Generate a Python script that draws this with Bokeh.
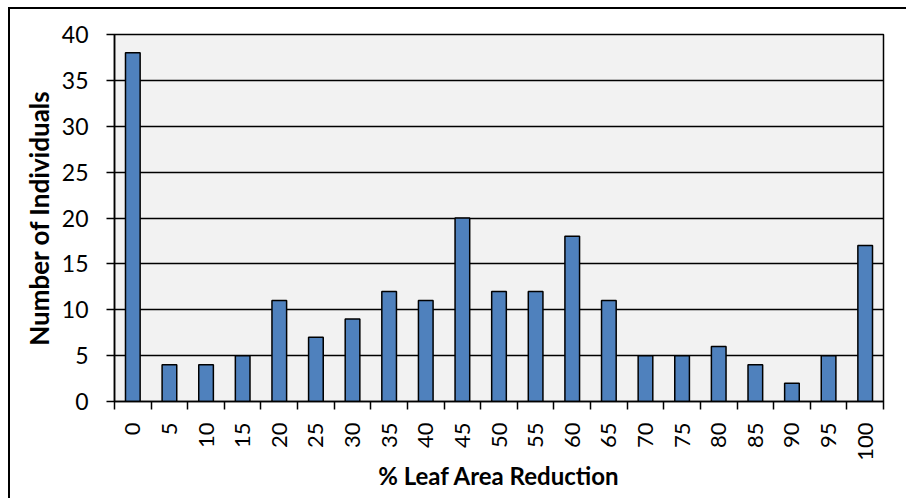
import math
from bokeh.plotting import figure
from bokeh.models import Range1d, FixedTicker, ColumnDataSource
from bokeh.embed import file_html
from bokeh.resources import INLINE

categories = ["0", "5", "10", "15", "20", "25", "30", "35", "40", "45", "50",
              "55", "60", "65", "70", "75", "80", "85", "90", "95", "100"]
counts = [38, 4, 4, 5, 11, 7, 9, 12, 11, 20, 12, 12, 18, 11, 5, 5, 6, 4, 2, 5, 17]
y_ticks = [0, 5, 10, 15, 20, 25, 30, 35, 40]

FONT = "Lato"

idx = list(range(len(categories)))
src = ColumnDataSource(dict(x=idx, top=counts, cat=categories))

p = figure(frame_width=769, frame_height=367,
           width=898, height=491,
           min_border_left=106, min_border_right=23,
           min_border_top=27, min_border_bottom=97,
           x_range=Range1d(-0.5, len(categories) - 0.5),
           y_range=Range1d(0, 40),
           output_backend="svg", toolbar_location=None)

p.vbar(x="x", top="top", width=0.4, bottom=0, source=src,
       fill_color="#4F81BD", line_color="black", line_width=1.5)

p.background_fill_color = "#F2F2F2"
p.border_fill_color = None
p.outline_line_color = "black"
p.outline_line_width = 1.5
p.styles = {"box-shadow": "inset 2px 2px 0 0 black",
            "margin-left": "8px", "margin-top": "7px"}

# y axis
p.yaxis.ticker = FixedTicker(ticks=y_ticks)
p.yaxis.major_tick_out = 8
p.yaxis.major_tick_in = 0
p.yaxis.minor_tick_out = 0
p.yaxis.minor_tick_in = 0
p.yaxis.axis_line_width = 1.5
p.yaxis.major_tick_line_width = 1.5
p.yaxis.major_label_text_font = FONT
p.yaxis.major_label_text_font_size = "23px"
p.yaxis.major_label_text_color = "black"
p.yaxis.major_label_standoff = 18
p.yaxis.axis_label = "Number of Individuals"
p.yaxis.axis_label_text_font = FONT
p.yaxis.axis_label_text_font_size = "26px"
p.yaxis.axis_label_text_font_style = "bold"
p.yaxis.axis_label_text_color = "black"
p.yaxis.axis_label_standoff = 4

# x axis: labels at centres, ticks at boundaries
p.xaxis.ticker = FixedTicker(ticks=idx,
                             minor_ticks=[i - 0.5 for i in range(len(categories) + 1)])
p.xaxis.major_label_overrides = {i: c for i, c in zip(idx, categories)}
p.xaxis.major_tick_out = 0
p.xaxis.major_tick_in = 0
p.xaxis.minor_tick_out = 8
p.xaxis.minor_tick_in = 0
p.xaxis.minor_tick_line_color = "black"
p.xaxis.minor_tick_line_width = 1.5
p.xaxis.axis_line_width = 1.5
p.xaxis.major_label_orientation = math.pi / 2
p.xaxis.major_label_text_font = FONT
p.xaxis.major_label_text_font_size = "22px"
p.xaxis.major_label_text_color = "black"
p.xaxis.major_label_standoff = 13
p.xaxis.axis_label = "% Leaf Area Reduction"
p.xaxis.axis_label_text_font = FONT
p.xaxis.axis_label_text_font_size = "24px"
p.xaxis.axis_label_text_font_style = "bold"
p.xaxis.axis_label_text_color = "black"
p.xaxis.axis_label_standoff = -3

p.xgrid.grid_line_color = None
p.ygrid.ticker = FixedTicker(ticks=y_ticks)
p.ygrid.grid_line_color = "black"
p.ygrid.grid_line_width = 1.5
p.ygrid.level = "underlay"

open("out.html", "w").write(file_html(p, INLINE))
